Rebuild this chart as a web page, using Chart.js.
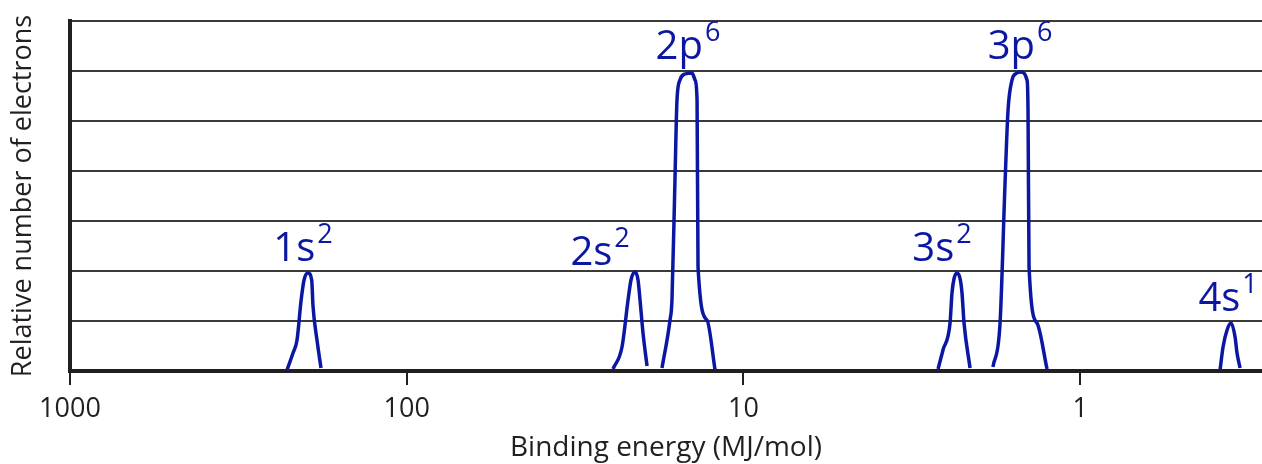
<!DOCTYPE html>
<html>
<head>
<meta charset="utf-8">
<script src="https://cdn.jsdelivr.net/npm/chart.js@4/dist/chart.umd.min.js"></script>
<style>
  body { margin: 0; background: #fff; }
</style>
</head>
<body>
<canvas id="pesChart" width="1262" height="464"></canvas>
<script>
// Binding energies (MJ/mol) and relative electron counts
const peak1sEnergy = [226.7, 217.6, 211.7, 206.0, 201.8, 196.4, 191.5, 189.8, 184.7, 179.7];
const peak1sCount  = [0.02, 0.36, 0.62, 1.40, 1.82, 1.96, 1.82, 1.30, 0.62, 0.06];

const peak2sEnergy = [24.39, 22.94, 22.01, 21.57, 20.98, 20.56, 20.28, 19.87, 19.33];
const peak2sCount  = [0.04, 0.48, 1.42, 1.82, 1.98, 1.82, 1.42, 0.76, 0.10];

const peak2pEnergy = [17.45, 16.52, 16.30, 15.97, 15.75, 15.43, 14.91, 14.21, 13.92, 13.73, 13.64, 12.83, 12.14];
const peak2pCount  = [0.06, 1.02, 1.42, 3.82, 5.42, 5.82, 5.94, 5.96, 5.82, 5.42, 2.08, 1.02, 0.02];

const peak3sEnergy = [2.642, 2.554, 2.434, 2.402, 2.368, 2.321, 2.273, 2.243, 2.212, 2.123];
const peak3sCount  = [0.04, 0.42, 0.96, 1.56, 1.85, 1.96, 1.85, 1.56, 0.96, 0.06];

const peak3pEnergy = [1.815, 1.729, 1.671, 1.637, 1.593, 1.550, 1.498, 1.438, 1.428, 1.418, 1.343, 1.254];
const peak3pCount  = [0.08, 0.96, 3.76, 5.22, 5.82, 5.95, 5.98, 5.82, 5.22, 2.08, 0.96, 0.04];

const peak4sEnergy = [0.3841, 0.3763, 0.3661, 0.3562, 0.3466, 0.3420, 0.3350];
const peak4sCount  = [0.02, 0.48, 0.82, 0.96, 0.68, 0.36, 0.06];

// Hand-written subshell labels
const subshellNames = ['1s', '2s', '2p', '3s', '3p', '4s'];
const subshellSups  = ['2', '2', '6', '2', '6', '1'];
const subshellTopE  = [196.4, 20.98, 14.41, 2.321, 1.498, 0.3562];
const subshellTopN  = [2, 2, 6, 2, 6, 1];

const xTickValues = [1000, 100, 10, 1];
const xMin = 0.2883;
const xMax = 1000;
const yMax = 7;

const inkBlue = '#0b17a3';
const textColor = '#231f20';

function makePeak(energies, counts) {
    return energies.map((e, i) => ({ x: e, y: counts[i] }));
}

const peaks = [
    [peak1sEnergy, peak1sCount],
    [peak2sEnergy, peak2sCount],
    [peak2pEnergy, peak2pCount],
    [peak3sEnergy, peak3sCount],
    [peak3pEnergy, peak3pCount],
    [peak4sEnergy, peak4sCount]
];

// label offsets from each peak top (pixels): centre shift, baseline lift
const labelShift = [[-5, 10], [-35, 6], [-2, 12], [-15, 10], [-1, 12], [-3, 10]];

const labelPlugin = {
    id: 'subshellLabels',
    afterDatasetsDraw(chart) {
        const c = chart.ctx;
        const xs = chart.scales.x;
        const ys = chart.scales.y;
        c.save();
        c.fillStyle = inkBlue;
        c.textBaseline = 'alphabetic';
        c.textAlign = 'left';
        subshellNames.forEach((name, i) => {
            const px = xs.getPixelForValue(subshellTopE[i]) + labelShift[i][0];
            const py = ys.getPixelForValue(subshellTopN[i]) - labelShift[i][1];
            c.font = '40px "Open Sans"';
            const w1 = c.measureText(name).width;
            c.font = '27px "Open Sans"';
            const w2 = c.measureText(subshellSups[i]).width;
            const left = px - (w1 + w2 + 2) / 2;
            c.font = '40px "Open Sans"';
            c.fillText(name, left, py);
            c.font = '27px "Open Sans"';
            c.fillText(subshellSups[i], left + w1 + 2, py - 18);
        });
        c.restore();
    }
};

new Chart(document.getElementById('pesChart'), {
    type: 'line',
    data: {
        datasets: peaks.map(p => ({
            data: makePeak(p[0], p[1]),
            borderColor: inkBlue,
            borderWidth: 3.5,
            pointRadius: 0,
            fill: false,
            cubicInterpolationMode: 'monotone'
        }))
    },
    options: {
        responsive: false,
        animation: false,
        layout: { padding: { top: 21, right: 0, bottom: 0, left: 0 } },
        plugins: {
            legend: { display: false },
            tooltip: { enabled: false }
        },
        scales: {
            x: {
                type: 'logarithmic',
                reverse: true,
                min: xMin,
                max: xMax,
                afterBuildTicks: (scale) => {
                    scale.ticks = xTickValues.map(v => ({ value: v }));
                },
                afterFit: (scale) => { scale.height = 93; },
                ticks: {
                    color: textColor,
                    font: { family: 'Open Sans', size: 27 },
                    padding: 8,
                    maxRotation: 0,
                    autoSkip: false,
                    callback: (v) => String(v)
                },
                grid: {
                    drawOnChartArea: false,
                    drawTicks: true,
                    tickLength: 14,
                    color: textColor,
                    lineWidth: 2
                },
                border: { display: true, color: textColor, width: 4 },
                title: {
                    display: true,
                    text: 'Binding energy (MJ/mol)',
                    color: textColor,
                    font: { family: 'Open Sans', size: 28, lineHeight: 1.15 },
                    padding: { top: 0, bottom: 0 }
                }
            },
            y: {
                min: 0,
                max: yMax,
                afterFit: (scale) => { scale.width = 70; },
                ticks: { display: false, stepSize: 1 },
                grid: {
                    drawTicks: false,
                    color: '#3a3a3a',
                    lineWidth: 2
                },
                border: { display: true, color: textColor, width: 4 },
                title: {
                    display: true,
                    text: 'Relative number of electrons',
                    color: textColor,
                    font: { family: 'Open Sans', size: 27 },
                    padding: { top: 7, bottom: 7 }
                }
            }
        }
    },
    plugins: [labelPlugin]
});
</script>
</body>
</html>
